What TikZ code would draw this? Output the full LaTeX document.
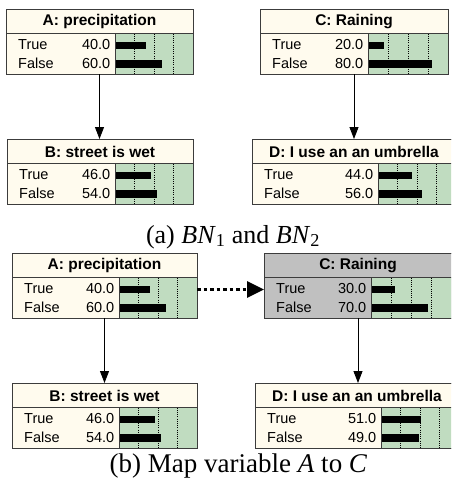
\documentclass[tikz,border=0pt]{standalone}
\usepackage{fontspec}
\setmainfont{Liberation Serif}
\newfontfamily\arialf{Liberation Sans}
\usetikzlibrary{arrows.meta}
\definecolor{cream}{RGB}{255,251,238}
\definecolor{netgreen}{RGB}{192,220,192}
\definecolor{netgray}{RGB}{192,192,192}
\definecolor{bord}{RGB}{60,60,60}
\tikzset{
 boxfr/.style={draw=bord, line width=0.9pt, minimum height=65pt, anchor=north west, inner sep=0pt, outer sep=0pt},
 ttl/.style={font=\arialf\bfseries\fontsize{15.5}{16}\selectfont, inner sep=0pt},
 rowtxt/.style={font=\arialf\fontsize{14.5}{14.5}\selectfont, inner sep=0pt},
 dep/.style={line width=0.9pt, -{Triangle[length=12pt,width=9pt]}},
 maparrow/.style={line width=3pt, dash pattern=on 3.5pt off 3pt, -{Triangle[length=17pt,width=16pt]}},
 captxt/.style={font=\fontsize{26}{28}\selectfont, inner sep=0pt, anchor=base}
}
% #1 name, #2 x, #3 y, #4 width, #5 text-part width, #6 title, #7 v1, #8 v2, #9 fill
\newcommand{\bnnode}[9]{%
 \node[boxfr, fill=#9, minimum width=#4pt] (#1) at (#2,#3) {};
 \begin{scope}[shift={(#1.north west)}]
  \fill[netgreen] (#5,24.5) rectangle (#4,65);
  \foreach \f in {0.25,0.5,0.75}{\draw[black, line width=0.6pt, dash pattern=on 1pt off 1.2pt] ({#5+\f*(#4-#5)},24.5) -- ({#5+\f*(#4-#5)},65);}
  \fill[black] (#5,32.7) rectangle ({#5+#7/100*(#4-#5)},40.3);
  \fill[black] (#5,51.3) rectangle ({#5+#8/100*(#4-#5)},59);
  \draw[bord, line width=0.9pt] (0,24.5) -- (#4,24.5);
  \draw[bord, line width=0.9pt] (#5,24.5) -- (#5,65);
  \draw[bord, line width=0.9pt] (0,0) rectangle (#4,65);
  \node[ttl] (#1-title) at ({#4/2},12.5) {#6};
  \node[rowtxt, anchor=base west] (#1-t1) at (12,40) {True};
  \node[rowtxt, anchor=base east] (#1-v1) at ({#5-4.5},40) {#7};
  \node[rowtxt, anchor=base west] (#1-t2) at (12,59) {False};
  \node[rowtxt, anchor=base east] (#1-v2) at ({#5-4.5},59) {#8};
 \end{scope}
}
\begin{document}
\begin{tikzpicture}[x=1pt,y=-1pt]
\useasboundingbox (0,0) rectangle (451,485);
\fill[white] (0,0) rectangle (451,485);
\clip (0,0) rectangle (451,485);
% (a)
\bnnode{A1}{6}{9}{187}{109}{A: precipitation}{40.0}{60.0}{cream}
\bnnode{C1}{260}{9}{188}{108}{C: Raining}{20.0}{80.0}{cream}
\bnnode{B1}{7}{139}{186}{108}{B: street is wet}{46.0}{54.0}{cream}
\bnnode{D1}{252}{139}{204}{126}{D: I use an an umbrella}{44.0}{56.0}{cream}
\draw[dep] (A1.south) -- (A1.south |- B1.north);
\draw[dep] (C1.south) -- (C1.south |- D1.north);
\node[captxt] (capa) at (233,243) {(a) \textit{BN}\textsubscript{1} and \textit{BN}\textsubscript{2}};
% (b)
\bnnode{A2}{12}{253}{185}{107}{A: precipitation}{40.0}{60.0}{cream}
\bnnode{C2}{264}{253}{188}{107}{C: Raining}{30.0}{70.0}{netgray}
\bnnode{B2}{12}{383}{185}{107}{B: street is wet}{46.0}{54.0}{cream}
\bnnode{D2}{255}{383}{204}{126}{D: I use an an umbrella}{51.0}{49.0}{cream}
\draw[dep] (A2.south) -- (A2.south |- B2.north);
\draw[dep] (C2.south) -- (C2.south |- D2.north);
\draw[maparrow] ([yshift=-4pt]A2.east) -- ([yshift=-4pt]C2.west);
\node[captxt, font=\fontsize{27}{29}\selectfont] (capb) at (238.5,472) {(b) Map variable \textit{A} to \textit{C}};
\end{tikzpicture}
\end{document}
